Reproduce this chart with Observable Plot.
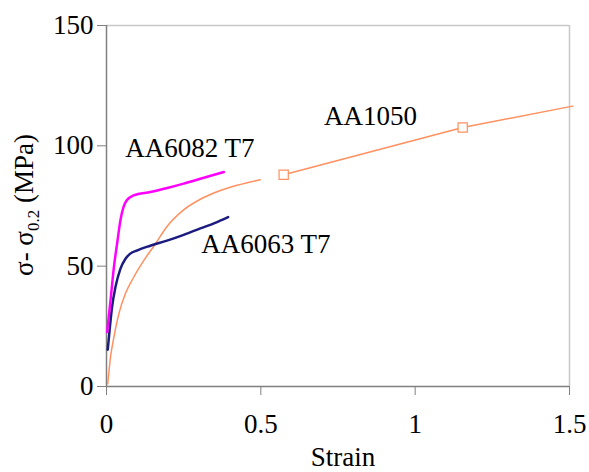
<!DOCTYPE html>
<html>
<head>
<meta charset="utf-8">
<script src="https://cdn.jsdelivr.net/npm/d3@7"></script>
<script src="https://cdn.jsdelivr.net/npm/@observablehq/plot@0.6"></script>
<style>
  html, body { margin: 0; padding: 0; background: #fff; }
  #chart svg { display: block; }
  #chart svg text, #chart svg tspan { font-family: "Liberation Serif", "Times New Roman", serif !important; }
</style>
</head>
<body>
<div id="chart"></div>
<script>
// ---- data ----
const aa6082Strain = [0.002, 0.013, 0.024, 0.035, 0.045, 0.055, 0.065, 0.088, 0.142, 0.200, 0.250, 0.304, 0.380];
const aa6082Stress = [22.6, 35.8, 49.6, 60.0, 69.0, 74.5, 77.3, 79.4, 80.8, 82.6, 84.3, 86.3, 89.1];

const aa6063Strain = [0.004, 0.011, 0.018, 0.029, 0.045, 0.061, 0.075, 0.100, 0.142, 0.196, 0.250, 0.304, 0.350, 0.394];
const aa6063Stress = [15.3, 24.7, 33.0, 41.3, 48.9, 53.0, 55.0, 56.6, 58.5, 60.6, 63.0, 65.7, 67.9, 70.4];

const aa1050Strain = [0.004, 0.013, 0.024, 0.040, 0.061, 0.088, 0.121, 0.155, 0.196, 0.250, 0.304, 0.358, 0.423, 0.498];
const aa1050Stress = [1.1, 12.2, 20.5, 30.2, 38.5, 45.4, 52.4, 58.6, 66.5, 73.4, 77.8, 80.9, 83.6, 85.9];

const aa1050ExtStrain = [0.574, 1.154, 1.51];
const aa1050ExtStress = [88.0, 107.6, 116.5];
const aa1050MarkerCount = 2;

const xTicks = [0, 0.5, 1, 1.5];
const yTicks = [0, 50, 100, 150];

const seriesNames = ["AA6082 T7", "AA6063 T7", "AA1050"];
const labelStrain = [0.061, 0.307, 0.705];
const labelStress = [98.8, 59.2, 112.4];

const yTitleMain = "σ- σ";
const yTitleSub = "0.2";
const yTitleEnd = " (MPa)";
const xTitle = "Strain";

// ---- build tables ----
const toRows = (xs, ys) => xs.map((x, i) => ({x, y: ys[i]}));
const r6082 = toRows(aa6082Strain, aa6082Stress);
const r6063 = toRows(aa6063Strain, aa6063Stress);
const r1050 = toRows(aa1050Strain, aa1050Stress);
const r1050ext = toRows(aa1050ExtStrain, aa1050ExtStress);
const labels = seriesNames.map((name, i) => ({name, x: labelStrain[i], y: labelStress[i]}));

const FONT = "'Liberation Serif', 'Times New Roman', serif";
const FS = 27;
const ORANGE = "#ff9060";

const chart = Plot.plot({
  width: 589,
  height: 472,
  marginLeft: 106,
  marginRight: 20,
  marginTop: 25,
  marginBottom: 86,
  style: {fontFamily: FONT, fontSize: FS + "px", color: "#000", background: "#fff", overflow: "visible"},
  x: {domain: [0, 1.5]},
  y: {domain: [0, 150]},
  marks: [
    Plot.ruleY([150], {stroke: "#c8c8c8", strokeWidth: 1.5}),
    Plot.ruleX([1.5], {stroke: "#c8c8c8", strokeWidth: 1.5}),
    Plot.axisX({ticks: xTicks, tickFormat: d => String(d), tickSize: 9, tickPadding: 18, stroke: "#808080", fontSize: FS, label: null}),
    Plot.axisY({ticks: yTicks, tickFormat: d => String(d), tickSize: 9, tickPadding: 4, stroke: "#808080", fontSize: FS, label: null}),
    Plot.ruleX([0], {stroke: "#808080", strokeWidth: 1.5}),
    Plot.ruleY([0], {stroke: "#808080", strokeWidth: 1.5}),
    Plot.line(r1050, {x: "x", y: "y", stroke: ORANGE, strokeWidth: 1.5, curve: "monotone-x"}),
    Plot.line(r1050ext, {x: "x", y: "y", stroke: ORANGE, strokeWidth: 1.5}),
    Plot.dot(r1050ext.slice(0, aa1050MarkerCount), {x: "x", y: "y", symbol: "square", r: 5.2, stroke: ORANGE, fill: "#fff", strokeWidth: 1.2}),
    Plot.line(r6063, {x: "x", y: "y", stroke: "#1c1c80", strokeWidth: 2.5, curve: "monotone-x"}),
    Plot.line(r6082, {x: "x", y: "y", stroke: "#ff00ff", strokeWidth: 2.5, curve: "monotone-x"}),
    Plot.text(labels, {x: "x", y: "y", text: "name", textAnchor: "start", fontSize: FS, fill: "#000"})
  ]
});

document.getElementById("chart").appendChild(chart);

// axis titles as real SVG text (with a subscript on the y title)
const svg = d3.select(chart);
svg.append("text")
  .attr("x", 343).attr("y", 466)
  .attr("text-anchor", "middle")
  .attr("font-family", FONT).attr("font-size", FS).attr("fill", "#000")
  .text(xTitle);

const yt = svg.append("text")
  .attr("transform", "translate(33,205) rotate(-90)")
  .attr("text-anchor", "middle")
  .attr("font-family", FONT).attr("font-size", FS).attr("fill", "#000");
yt.append("tspan").text(yTitleMain);
yt.append("tspan").attr("font-size", 17).attr("dy", 6).text(yTitleSub);
yt.append("tspan").attr("dy", -6).text(yTitleEnd);
</script>
</body>
</html>
